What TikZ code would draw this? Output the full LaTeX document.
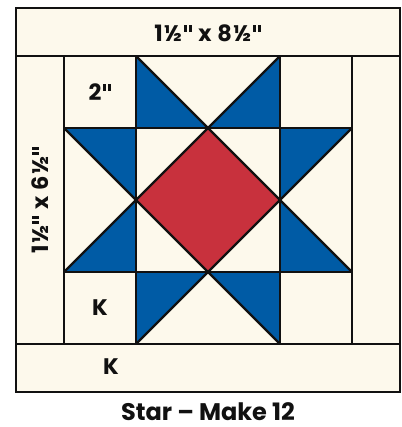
\documentclass[tikz,border=0pt]{standalone}
\usepackage{fontspec}
\setmainfont{Poppins}[UprightFont=* Bold]
\newfontfamily\lblfont{Poppins}[UprightFont=* Bold,LetterSpace=5]
\definecolor{cream}{HTML}{FDF9EC}
\definecolor{qblue}{HTML}{005BA5}
\definecolor{qred}{HTML}{C8313D}
\definecolor{ink}{HTML}{111111}
\newcommand\inchmark{\kern1.6pt\rule[0.42em]{2.8pt}{0.3em}\kern2.2pt\rule[0.42em]{2.8pt}{0.3em}\kern0.6pt}
\begin{document}
\begin{tikzpicture}[x=1pt,y=-1pt,
  seam/.style={draw=ink,line width=2.3pt,line join=miter},
  blue/.style={fill=qblue},
  lbl/.style={font=\lblfont\fontsize{22.5}{22.5}\selectfont,text=ink,inner sep=0pt},
  ttl/.style={font=\fontsize{24}{24}\selectfont,text=ink,inner sep=0pt}]
\useasboundingbox (0,0) rectangle (401,427);
% background of block
\fill[cream] (16,8) rectangle (400,392);
% blue triangles
\fill[blue] (136,56) -- (136,128) -- (208,128) -- cycle;
\fill[blue] (280,56) -- (280,128) -- (208,128) -- cycle;
\fill[blue] (64,128) -- (136,128) -- (136,200) -- cycle;
\fill[blue] (136,200) -- (136,272) -- (64,272) -- cycle;
\fill[blue] (352,128) -- (280,128) -- (280,200) -- cycle;
\fill[blue] (280,200) -- (280,272) -- (352,272) -- cycle;
\fill[blue] (136,272) -- (208,272) -- (136,344) -- cycle;
\fill[blue] (208,272) -- (280,272) -- (280,344) -- cycle;
% red diamond
\fill[qred] (208,128) -- (280,200) -- (208,272) -- (136,200) -- cycle;
% seams
\draw[seam] (16,56) -- (400,56);
\draw[seam] (16,344) -- (400,344);
\draw[seam] (64,56) -- (64,344);
\draw[seam] (352,56) -- (352,344);
\draw[seam] (136,56) -- (136,344);
\draw[seam] (280,56) -- (280,344);
\draw[seam] (64,128) -- (352,128);
\draw[seam] (64,272) -- (352,272);
\draw[seam] (136,56) -- (352,272);
\draw[seam] (280,56) -- (64,272);
\draw[seam] (64,128) -- (280,344);
\draw[seam] (352,128) -- (136,344);
\draw[seam,line width=2.6pt] (16,8) rectangle (400,392);
% labels
\node[lbl] (top) at (208,33) {1½\inchmark{} x 8½\inchmark};
\node[lbl] (two) at (100,92) {2\inchmark};
\node[lbl] (k1) at (100,307.5) {K};
\node[lbl] (k2) at (111,367) {K};
\node[lbl,rotate=90] (side) at (40,200) {1½\inchmark{} x 6½\inchmark};
\node[ttl] (title) at (208,411.5) {Star – Make 12};
\end{tikzpicture}
\end{document}
